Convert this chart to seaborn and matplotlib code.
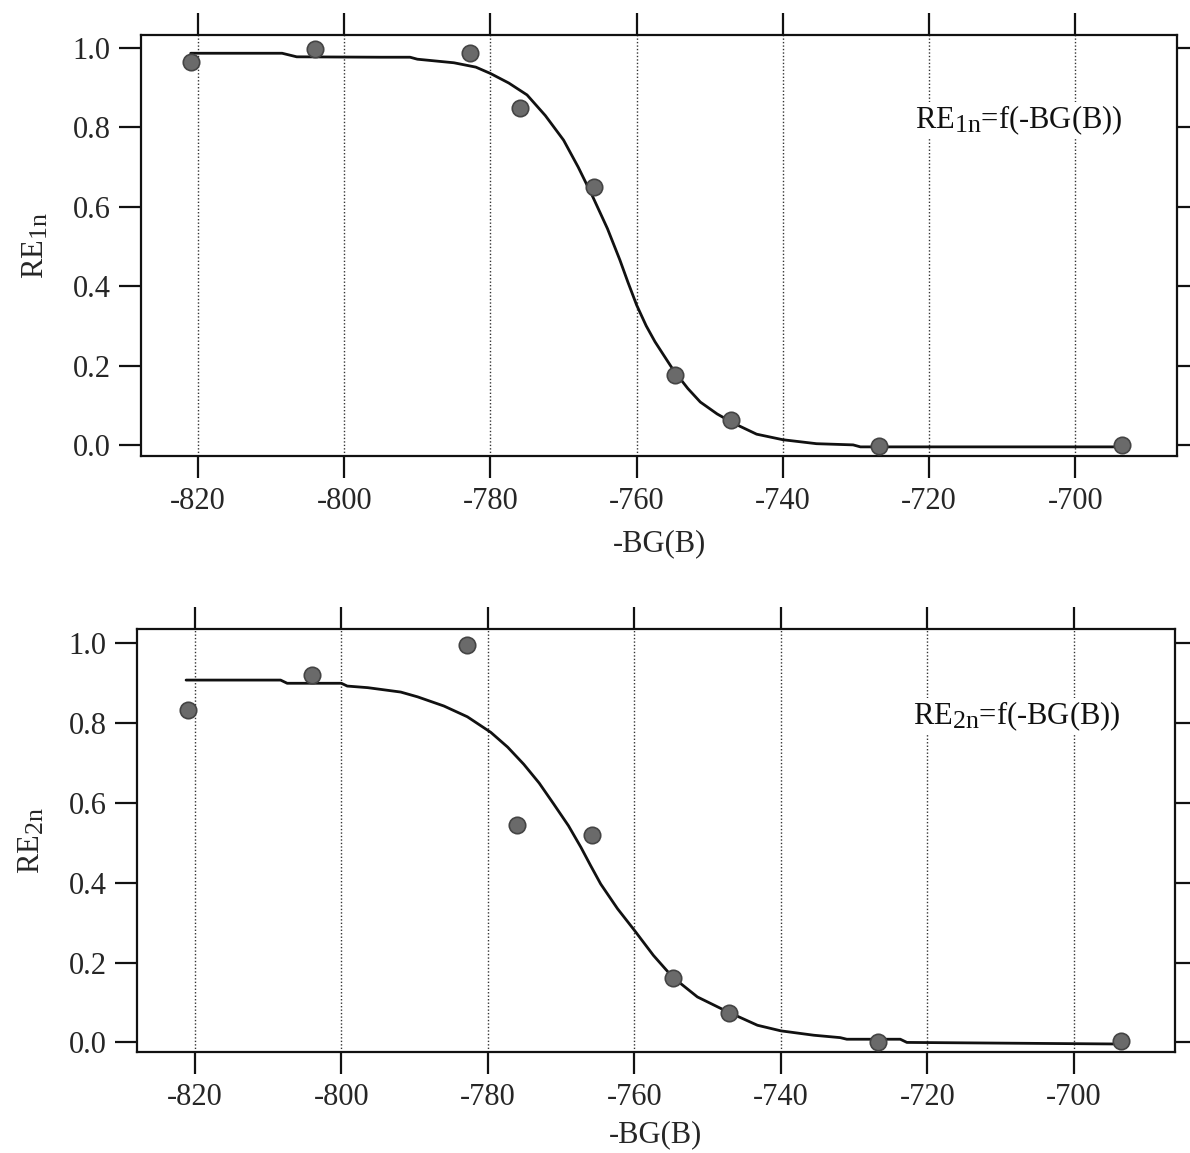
import matplotlib
matplotlib.use("Agg")
import matplotlib.pyplot as plt
import matplotlib._mathtext as _mt
import seaborn as sns
import pandas as pd

# ---- data ----
x_pts = [-821.0, -804.0, -782.8, -776.0, -765.8, -754.7, -747.1, -726.8, -693.6]
re1_pts = [0.964, 0.997, 0.988, 0.849, 0.651, 0.176, 0.063, -0.004, 0.0]
re2_pts = [0.833, 0.921, 0.997, 0.546, 0.520, 0.162, 0.074, 0.002, 0.004]

fit1_x = [-821.0, -808.5, -806.5, -795.0, -791.0, -790.0, -785.0, -782.0, -780.0, -777.5,
          -775.0, -772.5, -770.0, -768.0, -766.0, -764.0, -762.3, -761.2, -760.0, -758.7,
          -757.5, -756.2, -755.0, -753.0, -751.3, -749.0, -746.8, -743.6, -740.0, -735.4,
          -730.4, -729.4, -693.5]
fit1_y = [0.987, 0.987, 0.978, 0.977, 0.977, 0.972, 0.963, 0.952, 0.936, 0.912,
          0.882, 0.830, 0.768, 0.700, 0.625, 0.545, 0.466, 0.410, 0.352, 0.300,
          0.260, 0.223, 0.189, 0.142, 0.108, 0.078, 0.055, 0.027, 0.013, 0.003,
          0.000, -0.005, -0.005]

fit2_x = [-821.2, -808.3, -807.4, -800.0, -799.2, -796.4, -791.9, -789.6, -786.0, -782.8,
          -779.6, -777.3, -775.1, -773.0, -771.0, -769.0, -767.3, -766.0, -764.6, -762.3,
          -760.0, -757.4, -754.8, -751.4, -747.3, -743.2, -740.0, -735.5, -731.9, -731.0,
          -723.7, -722.8, -693.6]
fit2_y = [0.908, 0.908, 0.900, 0.900, 0.893, 0.889, 0.878, 0.866, 0.843, 0.816,
          0.777, 0.740, 0.697, 0.650, 0.597, 0.543, 0.489, 0.444, 0.397, 0.335,
          0.281, 0.218, 0.164, 0.114, 0.077, 0.043, 0.029, 0.018, 0.012, 0.008,
          0.008, 0.000, -0.004]

x_ticks = [-820, -800, -780, -760, -740, -720, -700]
y_ticks = [0.0, 0.2, 0.4, 0.6, 0.8, 1.0]

sns.set_style("ticks")
plt.rcParams['font.family'] = ['Liberation Serif', 'DejaVu Serif']
plt.rcParams['mathtext.fontset'] = 'custom'
plt.rcParams['mathtext.rm'] = 'Liberation Serif'
plt.rcParams['mathtext.it'] = 'Liberation Serif:italic'
plt.rcParams['axes.unicode_minus'] = False
# larger subscripts, as in the reference
_mt.SHRINK_FACTOR = 0.85

W, H = 1190, 1153
fig = plt.figure(figsize=(W / 100, H / 100), dpi=100)
fig.patch.set_facecolor('white')


def make_axes(l, r, t, b):
    return fig.add_axes([l / W, 1 - b / H, (r - l) / W, (b - t) / H])


panels = [
    dict(box=(141, 1177, 35, 456), xlim=(-827.8, -686.1), ylim=(-0.028, 1.033),
         pts=re1_pts, fx=fit1_x, fy=fit1_y, ylab=r'RE$_{\rm 1n}$',
         ann=r'RE$_{\rm 1n}$=f(-BG(B))', xpad=10),
    dict(box=(137, 1175, 629, 1052), xlim=(-827.9, -686.2), ylim=(-0.024, 1.036),
         pts=re2_pts, fx=fit2_x, fy=fit2_y, ylab=r'RE$_{\rm 2n}$',
         ann=r'RE$_{\rm 2n}$=f(-BG(B))', xpad=6),
]

fs = 22
for p in panels:
    ax = make_axes(*p['box'])
    ax.set_facecolor('white')
    for xt in x_ticks:
        ax.axvline(xt, color='#333333', lw=1.0, ls=(0, (1, 1.5)), zorder=0)
    df_fit = pd.DataFrame({'x': p['fx'], 'y': p['fy']})
    sns.lineplot(data=df_fit, x='x', y='y', ax=ax, color='#111111', lw=2.0,
                 sort=False, estimator=None, zorder=2)
    df_pts = pd.DataFrame({'x': x_pts, 'y': p['pts']})
    sns.scatterplot(data=df_pts, x='x', y='y', ax=ax, s=140, color='#6a6a6a',
                    edgecolor='#444444', linewidth=1.2, zorder=3)
    ax.set_xlim(*p['xlim'])
    ax.set_ylim(*p['ylim'])
    ax.set_xticks(x_ticks)
    ax.set_xticklabels([str(v) for v in x_ticks])
    ax.set_yticks(y_ticks)
    ax.set_yticklabels([f'{v:.1f}' for v in y_ticks])
    for s in ax.spines.values():
        s.set_visible(True)
        s.set_linewidth(1.6)
        s.set_color('#111111')
    ax.tick_params(axis='both', which='major', direction='out', length=16, width=1.6,
                   color='#111111', labelsize=fs, top=True, right=True,
                   labeltop=False, labelright=False, pad=6)
    ax.set_xlabel('-BG(B)', fontsize=fs, labelpad=p['xpad'])
    ax.set_ylabel(p['ylab'], fontsize=fs, labelpad=16)
    ax.text(-721.9, 0.818, p['ann'], fontsize=fs, ha='left', va='center',
            color='#111111', zorder=4,
            bbox=dict(facecolor='white', edgecolor='none', pad=1))

fig.savefig('out.png', dpi=100, facecolor='white')
